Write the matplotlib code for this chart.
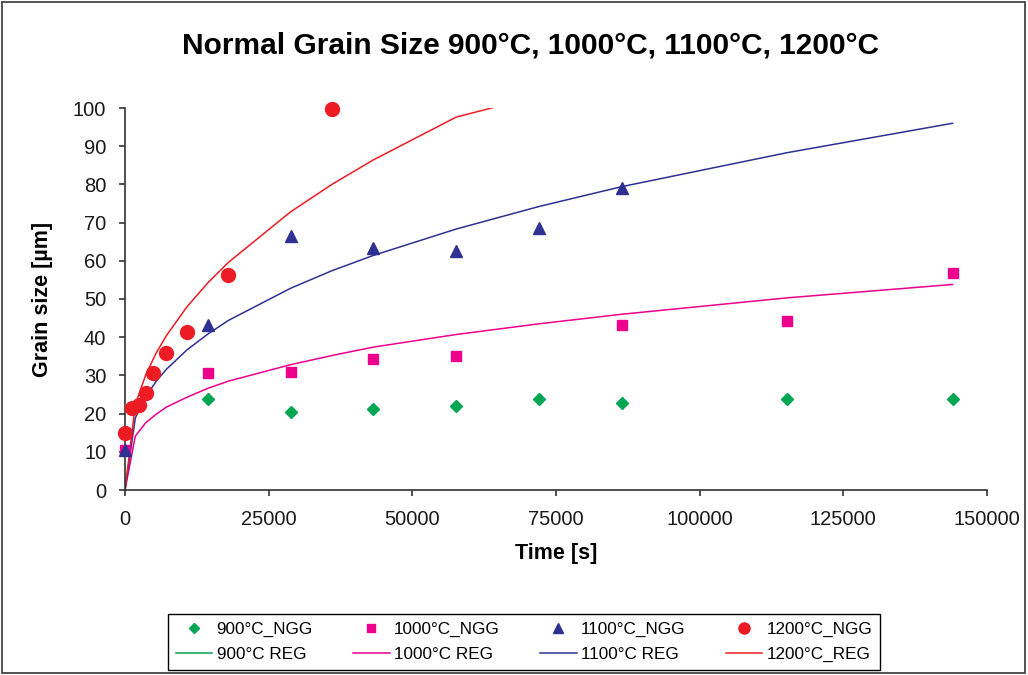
import matplotlib
matplotlib.use("Agg")
import matplotlib.pyplot as plt
from matplotlib.patches import Rectangle

plt.rcParams['font.family'] = ['Liberation Sans', 'DejaVu Sans']

# ---- data ----
t_900 = [14400, 28800, 43200, 57600, 72000, 86400, 115200, 144000]
g_900 = [23.7, 20.4, 21.1, 21.9, 23.7, 22.7, 23.7, 23.7]

t_1000 = [0, 14400, 28800, 43200, 57600, 86400, 115200, 144000]
g_1000 = [10.5, 30.6, 31.0, 34.4, 35.0, 43.1, 44.2, 56.7]

t_1100 = [0, 14400, 28800, 43200, 57600, 72000, 86400]
g_1100 = [10.5, 43.1, 66.6, 63.3, 62.6, 68.5, 79.1]

t_1200 = [0, 1200, 2400, 3600, 4800, 7200, 10800, 18000, 36000]
g_1200 = [15.0, 21.5, 22.2, 25.5, 30.6, 35.8, 41.3, 56.3, 99.7]

# regression curves
t_reg = [0, 1800, 3600, 5400, 7200, 10800, 14400, 18000, 28800, 36000,
         43200, 57600, 72000, 86400, 115200, 144000]
reg_900_t = []
reg_900 = []
reg_1000 = [0, 14.1, 17.6, 19.8, 21.7, 24.3, 26.6, 28.5, 32.8, 35.2,
            37.4, 40.7, 43.5, 46.0, 50.3, 53.8]
reg_1100 = [0, 18.9, 24.4, 28.4, 31.6, 36.7, 40.8, 44.4, 52.8, 57.4,
            61.4, 68.3, 74.2, 79.4, 88.3, 96.0]
t_reg_1200 = [0, 1800, 3600, 5400, 7200, 10800, 14400, 18000, 28800, 36000,
              43200, 57600, 72000]
reg_1200 = [0, 22.4, 30.1, 35.8, 40.4, 48.0, 54.2, 59.6, 72.8, 80.0,
            86.4, 97.6, 103.2]

x_ticks = [0, 25000, 50000, 75000, 100000, 125000, 150000]
y_ticks = list(range(0, 101, 10))

c900 = '#00A651'
c1000 = '#EC008C'
c1100 = '#2E3192'
c1200 = '#ED1C24'

fig = plt.figure(figsize=(10.28, 6.75), dpi=100)
ax = fig.add_axes([125/1028, 1 - 490/675, 862/1028, 382/675])

# regression lines
l900, = ax.plot(reg_900_t, reg_900, color=c900, lw=1.1)
l1000, = ax.plot(t_reg, reg_1000, color=c1000, lw=1.1)
l1100, = ax.plot(t_reg, reg_1100, color=c1100, lw=1.1)
l1200, = ax.plot(t_reg_1200, reg_1200, color=c1200, lw=1.1)

# measured points
m900, = ax.plot(t_900, g_900, ls='none', marker='D', ms=6, color=c900,
                mec=c900, clip_on=False, zorder=4)
m1000, = ax.plot(t_1000, g_1000, ls='none', marker='s', ms=7.5, color=c1000,
                 mec=c1000, clip_on=False, zorder=4)
m1100, = ax.plot(t_1100, g_1100, ls='none', marker='^', ms=9, color=c1100,
                 mec=c1100, clip_on=False, zorder=5)
m1200, = ax.plot(t_1200, g_1200, ls='none', marker='o', ms=10, color=c1200,
                 mec=c1200, clip_on=False, zorder=6)

ax.set_xlim(0, 150000)
ax.set_ylim(0, 100)
ax.set_xticks(x_ticks)
ax.set_yticks(y_ticks)
ax.set_xticklabels([str(v) for v in x_ticks])
ax.set_yticklabels([str(v) for v in y_ticks])

for s in ['top', 'right']:
    ax.spines[s].set_visible(False)
for s in ['left', 'bottom']:
    ax.spines[s].set_color('#333333')
    ax.spines[s].set_linewidth(1.2)

ax.tick_params(axis='both', direction='out', length=4.5, width=1.2,
               color='#333333', labelsize=14.5, labelcolor='#1a1a1a')
ax.tick_params(axis='y', pad=9)
ax.tick_params(axis='x', pad=10)

ax.set_xlabel('Time [s]', fontsize=15.5, fontweight='bold', labelpad=10)
ax.set_ylabel('Grain size [µm]', fontsize=15.5, fontweight='bold', labelpad=14)

fig.text(530/1028, 1 - 45/675, 'Normal Grain Size 900°C, 1000°C, 1100°C, 1200°C',
         ha='center', va='center', fontsize=21.5, fontweight='bold')

handles = [m900, l900, m1000, l1000, m1100, l1100, m1200, l1200]
labels = ['900°C_NGG', '900°C REG', '1000°C_NGG', '1000°C REG',
          '1100°C_NGG', '1100°C REG', '1200°C_NGG', '1200°C_REG']
leg = fig.legend(handles, labels, loc='center', ncol=4,
                 bbox_to_anchor=(524/1028, 1 - 642/675),
                 fontsize=12.3, frameon=True, fancybox=False,
                 edgecolor='black', framealpha=1, handlelength=2.15,
                 handletextpad=0.25, columnspacing=2.35, borderpad=0.45,
                 labelspacing=0.55, markerscale=0.8, borderaxespad=0)
leg.get_frame().set_linewidth(1.0)

fig.patches.append(Rectangle((0.0015, 0.003), 0.996, 0.994,
                             transform=fig.transFigure, fill=False,
                             edgecolor='#444444', lw=1.3))

fig.savefig('out.png', dpi=100)
